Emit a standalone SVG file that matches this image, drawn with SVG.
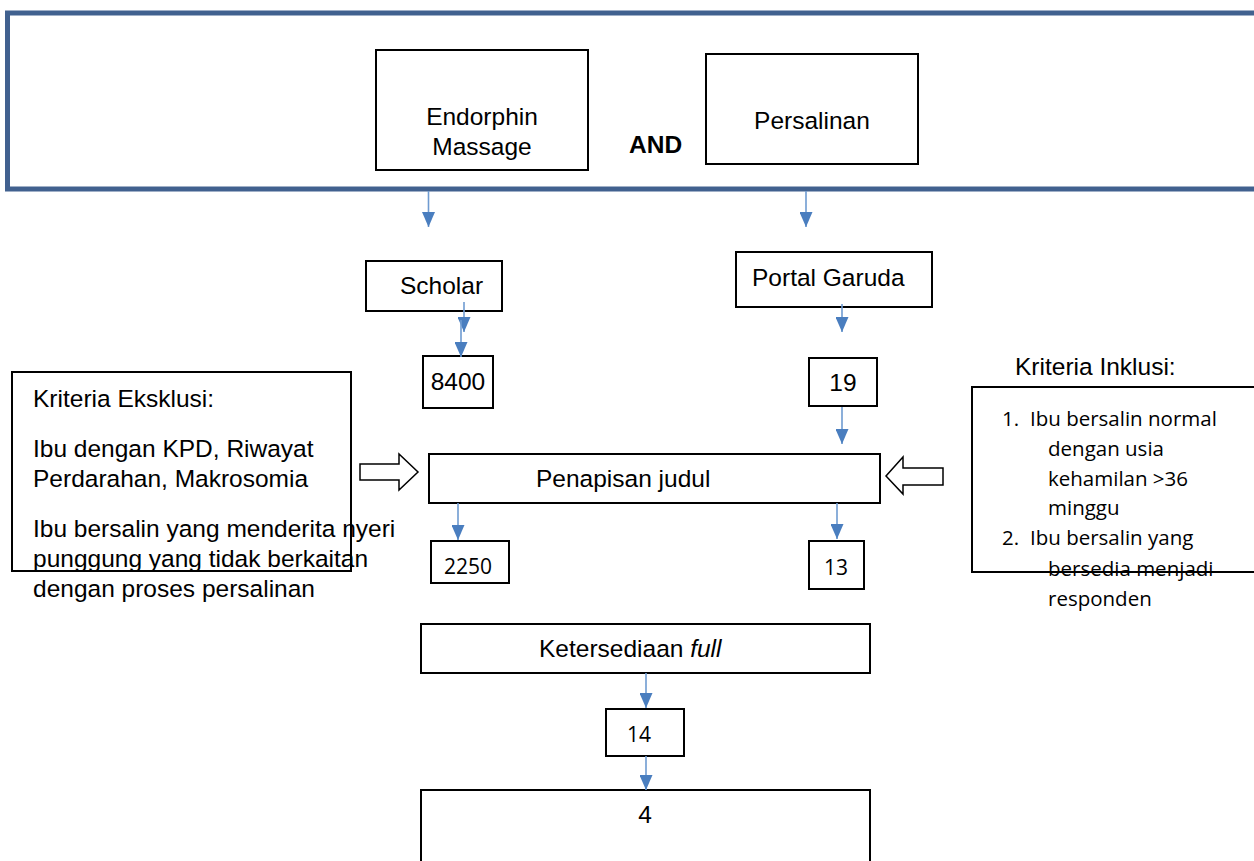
<svg xmlns="http://www.w3.org/2000/svg" width="1254" height="861" viewBox="0 0 1254 861">
<style>
.box{fill:#fff;stroke:#000;stroke-width:2}
.t{font-family:"Liberation Sans",Arial,sans-serif;font-size:24.5px;fill:#000}
.c{font-family:"Open Sans","Liberation Sans",sans-serif;font-size:20.5px;fill:#000}
.n{font-family:"Open Sans","Liberation Sans",sans-serif;font-size:21px;fill:#000}
.conn{stroke:#6f9bd1;stroke-width:1.6;fill:none;marker-end:url(#ah)}
.blk{fill:#fff;stroke:#000;stroke-width:1.5}
</style>
<defs>
<marker id="ah" viewBox="0 0 15 13" markerWidth="15" markerHeight="13" refX="15" refY="6.5" orient="auto" markerUnits="userSpaceOnUse">
<path d="M0,0 L15,6.5 L0,13 z" fill="#4a7ebf"/>
</marker>
</defs>
<rect width="1254" height="861" fill="#fff"/>
<g id="search-frame">
<rect x="7.5" y="13" width="1260" height="176" fill="none" stroke="#41618f" stroke-width="5"/>
</g>
<g id="endorphin">
<rect class="box" x="376" y="50" width="212" height="120"/>
<text class="t" x="482" y="125" text-anchor="middle">Endorphin</text>
<text class="t" x="482" y="155" text-anchor="middle">Massage</text>
</g>
<g id="and">
<text class="t" x="629" y="153" font-weight="bold">AND</text>
</g>
<g id="persalinan">
<rect class="box" x="706" y="54" width="212" height="110"/>
<text class="t" x="812" y="129" text-anchor="middle">Persalinan</text>
</g>
<g id="scholar">
<rect class="box" x="366" y="261" width="136" height="50"/>
<text class="t" x="400" y="294">Scholar</text>
</g>
<g id="portal-garuda">
<rect class="box" x="736" y="252" width="196" height="55"/>
<text class="t" x="752" y="286">Portal Garuda</text>
</g>
<g id="n8400">
<rect class="box" x="423" y="356" width="70" height="52"/>
<text class="t" x="458" y="390" text-anchor="middle">8400</text>
</g>
<g id="n19">
<rect class="box" x="809" y="358" width="68" height="48"/>
<text class="t" x="843" y="391" text-anchor="middle">19</text>
</g>
<g id="eksklusi">
<rect class="box" x="12" y="372" width="339" height="199" style="fill:none"/>
<text class="t" x="33" y="407">Kriteria Eksklusi:</text>
<text class="t" x="33" y="457">Ibu dengan KPD, Riwayat</text>
<text class="t" x="33" y="487">Perdarahan, Makrosomia</text>
<text class="t" x="33" y="537">Ibu bersalin yang menderita nyeri</text>
<text class="t" x="33" y="567">punggung yang tidak berkaitan</text>
<text class="t" x="33" y="597">dengan proses persalinan</text>
</g>
<g id="inklusi">
<text class="t" x="1015" y="375">Kriteria Inklusi:</text>
<rect class="box" x="972" y="387" width="300" height="185" style="fill:none"/>
<text class="c" x="1002" y="426">1.</text>
<text class="c" x="1030" y="426">Ibu bersalin normal</text>
<text class="c" x="1048" y="456">dengan usia</text>
<text class="c" x="1048" y="486">kehamilan &gt;36</text>
<text class="c" x="1048" y="515">minggu</text>
<text class="c" x="1002" y="545">2.</text>
<text class="c" x="1030" y="545">Ibu bersalin yang</text>
<text class="c" x="1048" y="576">bersedia menjadi</text>
<text class="c" x="1048" y="606">responden</text>
</g>
<g id="penapisan">
<rect class="box" x="429" y="454" width="451" height="49"/>
<text class="t" x="536" y="487">Penapisan judul</text>
</g>
<g id="n2250">
<rect class="box" x="431" y="541" width="78" height="42"/>
<text class="n" x="444" y="574">2250</text>
</g>
<g id="n13">
<rect class="box" x="809" y="541" width="55" height="48"/>
<text class="n" x="836" y="575" text-anchor="middle">13</text>
</g>
<g id="ketersediaan">
<rect class="box" x="421" y="624" width="449" height="49"/>
<text class="t" x="539" y="657">Ketersediaan <tspan font-style="italic">full</tspan></text>
</g>
<g id="n14">
<rect class="box" x="606" y="709" width="78" height="47"/>
<text class="n" x="627" y="742">14</text>
</g>
<g id="n4">
<rect class="box" x="421" y="790" width="449" height="80"/>
<text class="t" x="645" y="823" text-anchor="middle">4</text>
</g>
<g id="connectors">
<line class="conn" x1="428.5" y1="191" x2="428.5" y2="227"/>
<line class="conn" x1="806" y1="191" x2="806" y2="227"/>
<line class="conn" x1="464" y1="302" x2="464" y2="332"/>
<line class="conn" x1="461" y1="320" x2="461" y2="357"/>
<line class="conn" x1="842" y1="304" x2="842" y2="332"/>
<line class="conn" x1="842" y1="407" x2="842" y2="444"/>
<line class="conn" x1="458" y1="503" x2="458" y2="540"/>
<line class="conn" x1="837" y1="503" x2="837" y2="539"/>
<line class="conn" x1="646" y1="673" x2="646" y2="708"/>
<line class="conn" x1="646" y1="756" x2="646" y2="790"/>
<polygon class="blk" points="360,464 399,464 399,454 418,472 399,490 399,480 360,480"/>
<polygon class="blk" points="943,468 903,468 903,457 886,476 903,494 903,485 943,485"/>
</g>
</svg>
